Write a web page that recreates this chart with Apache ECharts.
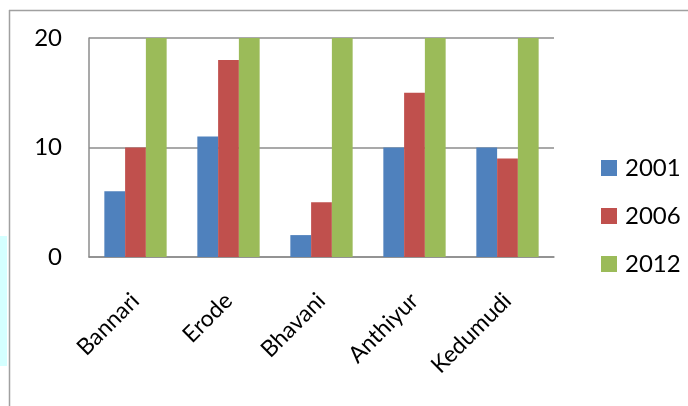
<!DOCTYPE html>
<html>
<head>
<meta charset="utf-8">
<script src="https://cdn.jsdelivr.net/npm/echarts@6/dist/echarts.min.js"></script>
<style>
html,body{margin:0;padding:0;background:#fff;}
#chart{width:688px;height:406px;}
</style>
</head>
<body>
<div id="chart"></div>
<script>
const categories = ['Bannari', 'Erode', 'Bhavani', 'Anthiyur', 'Kedumudi'];
const seriesNames = ['2001', '2006', '2012'];
const values2001 = [6, 11, 2, 10, 10];
const values2006 = [10, 18, 5, 15, 9];
const values2012 = [20, 20, 20, 20, 20];
const yTicks = [0, 10, 20];
const colors = ['#4F81BD', '#C0504D', '#9BBB59'];

const font = 'Lato, "Open Sans", sans-serif';
const chart = echarts.init(document.getElementById('chart'), null, {renderer: 'canvas'});
const dataSets = [values2001, values2006, values2012];

chart.setOption({
  animation: false,
  textStyle: {fontFamily: font},
  graphic: [
    {type: 'rect', shape: {x: 0, y: 236, width: 7, height: 130}, style: {fill: '#d4ffff'}, silent: true},
    {type: 'line', shape: {x1: 9.5, y1: 10, x2: 9.5, y2: 406}, style: {stroke: '#a0a0a0', lineWidth: 1.5}},
    {type: 'line', shape: {x1: 9, y1: 10.5, x2: 688, y2: 10.5}, style: {stroke: '#a0a0a0', lineWidth: 1.5}}
  ],
  grid: {left: 89, top: 38, right: 134, bottom: 149, containLabel: false},
  legend: {
    orient: 'vertical',
    left: 596,
    top: 151,
    itemWidth: 16,
    itemHeight: 16,
    itemGap: 24,
    icon: 'rect',
    data: seriesNames,
    textStyle: {fontFamily: font, fontSize: 24, color: '#000', lineHeight: 24, padding: [0, 0, 0, 3]}
  },
  xAxis: {
    type: 'category',
    data: categories,
    axisLine: {show: true, lineStyle: {color: '#8c8c8c', width: 1.5}},
    axisTick: {show: false},
    axisLabel: {rotate: 45, margin: 40, fontSize: 23, color: '#000', fontFamily: font, interval: 0}
  },
  yAxis: {
    type: 'value',
    min: yTicks[0],
    max: yTicks[yTicks.length - 1],
    interval: 10,
    axisLine: {show: true, lineStyle: {color: '#8c8c8c', width: 1.5}},
    axisTick: {show: false},
    splitLine: {show: true, lineStyle: {color: '#8c8c8c', width: 1.5}},
    axisLabel: {margin: 27, fontSize: 24, color: '#000', fontFamily: font}
  },
  series: seriesNames.map((name, i) => ({
    name: name,
    type: 'bar',
    data: dataSets[i],
    barGap: '0%',
    barCategoryGap: '33%',
    itemStyle: {color: colors[i]}
  }))
});
</script>
</body>
</html>
